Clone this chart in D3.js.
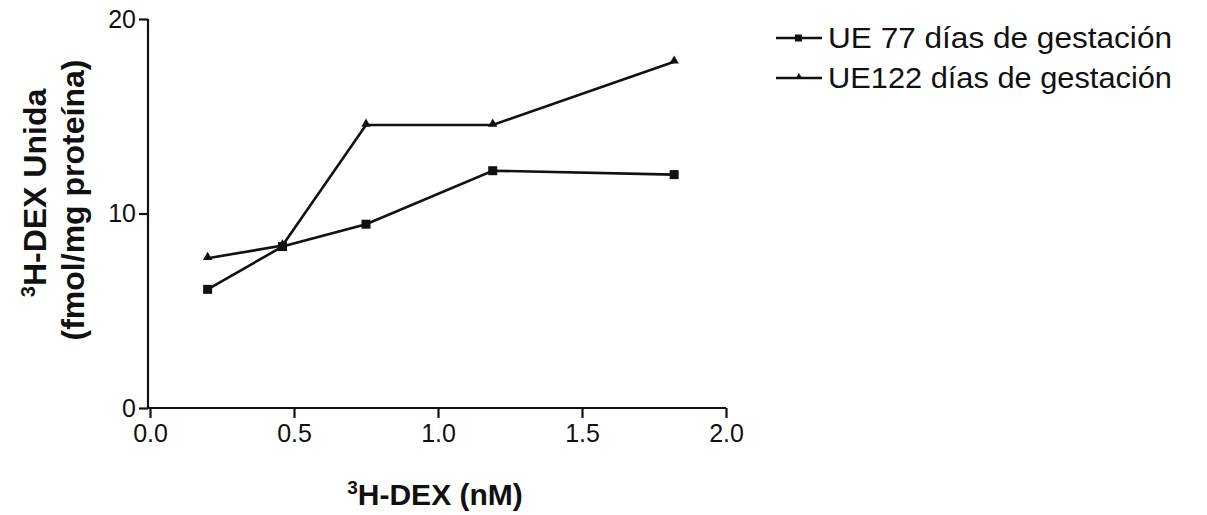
<!DOCTYPE html>
<html>
<head>
<meta charset="utf-8">
<script src="https://cdn.jsdelivr.net/npm/d3@7"></script>
<style>
  body { margin: 0; background: #fff; }
  text { font-family: "Liberation Sans", Arial, sans-serif; fill: #111; }
</style>
</head>
<body>
<div id="canvas"></div>
<script>
// Concentrations of 3H-DEX (nM).
const concentrations = [0.2, 0.46, 0.75, 1.19, 1.82];
// Bound 3H-DEX per series (fmol/mg proteína).
const ue77 = [6.1, 8.3, 9.45, 12.2, 12.0];
const ue122 = [7.7, 8.35, 14.55, 14.55, 17.8];
const seriesNames = ["UE 77 días de gestación", "UE122 días de gestación"];
const xTicks = [0, 0.5, 1.0, 1.5, 2.0];
const yTicks = [0, 10, 20];

const w = 1207, h = 515;
const plotLeft = 150, plotRight = 726, plotTop = 19, plotBottom = 408;

const svg = d3.select("#canvas")
    .append("svg")
    .attr("width", w)
    .attr("height", h);

const xScale = d3.scaleLinear().domain([0, 2]).range([plotLeft, plotRight]);
const yScale = d3.scaleLinear().domain([0, 20]).range([plotBottom, plotTop]);

// Axes
const xAxis = svg.append("g")
    .attr("transform", `translate(0,${plotBottom})`)
    .call(d3.axisBottom(xScale).tickValues(xTicks).tickFormat(d3.format(".1f")).tickSize(10).tickPadding(6));
const yAxis = svg.append("g")
    .attr("transform", `translate(${plotLeft - 2},0)`)
    .call(d3.axisLeft(yScale).tickValues(yTicks).tickFormat(d3.format("d")).tickSize(9).tickPadding(3));

[xAxis, yAxis].forEach(a => {
    a.select(".domain").attr("stroke", "#111").attr("stroke-width", 2.2);
    a.selectAll(".tick line").attr("stroke", "#111").attr("stroke-width", 2.2);
    a.selectAll(".tick text").attr("font-size", 25).attr("fill", "#111");
});
xAxis.select(".domain").attr("d", `M${plotLeft - 2},0H${plotRight}`);
yAxis.select(".domain").attr("d", `M0,${plotTop}V${plotBottom}`);

// Lines
const line = d3.line()
    .x((d, i) => xScale(concentrations[i]))
    .y(d => yScale(d));

const triangle = d3.symbol().type(d3.symbolTriangle).size(38);

const series = [
    { name: seriesNames[0], values: ue77, marker: "square" },
    { name: seriesNames[1], values: ue122, marker: "triangle" }
];

series.forEach(s => {
    svg.append("path")
        .datum(s.values)
        .attr("d", line)
        .attr("fill", "none")
        .attr("stroke", "#111")
        .attr("stroke-width", 2.6);

    if (s.marker === "square") {
        svg.selectAll(null)
            .data(s.values)
            .enter()
            .append("rect")
            .attr("x", (d, i) => xScale(concentrations[i]) - 4.5)
            .attr("y", d => yScale(d) - 4.5)
            .attr("width", 9)
            .attr("height", 9)
            .attr("fill", "#111");
    } else {
        svg.selectAll(null)
            .data(s.values)
            .enter()
            .append("path")
            .attr("d", triangle)
            .attr("transform", (d, i) => `translate(${xScale(concentrations[i])},${yScale(d) - 1})`)
            .attr("fill", "#111");
    }
});

// Axis titles
const yTitle = svg.append("text")
    .attr("transform", "translate(46,193) rotate(-90)")
    .attr("text-anchor", "middle")
    .attr("font-size", 32)
    .attr("font-weight", "bold");
yTitle.append("tspan").attr("font-size", 20).attr("dy", -11).text("3");
yTitle.append("tspan").attr("dy", 11).text("H-DEX Unida");

svg.append("text")
    .attr("transform", "translate(84,200) rotate(-90)")
    .attr("text-anchor", "middle")
    .attr("font-size", 32)
    .attr("font-weight", "bold")
    .text("(fmol/mg proteína)");

const xTitle = svg.append("text")
    .attr("x", 435)
    .attr("y", 505)
    .attr("text-anchor", "middle")
    .attr("font-size", 30)
    .attr("font-weight", "bold");
xTitle.append("tspan").attr("font-size", 19).attr("dy", -11).text("3");
xTitle.append("tspan").attr("dy", 11).text("H-DEX (nM)");

// Legend
const legend = svg.append("g").attr("transform", "translate(776,38)");
series.forEach((s, i) => {
    const g = legend.append("g").attr("transform", `translate(0,${i * 40})`);
    g.append("line")
        .attr("x1", 0).attr("x2", 46)
        .attr("y1", 0).attr("y2", 0)
        .attr("stroke", "#111")
        .attr("stroke-width", 2.4);
    if (s.marker === "square") {
        g.append("rect").attr("x", 19).attr("y", -3.5).attr("width", 7).attr("height", 7).attr("fill", "#111");
    } else {
        g.append("path").attr("d", d3.symbol().type(d3.symbolTriangle).size(22)).attr("transform", "translate(23,-1)").attr("fill", "#111");
    }
    g.append("text")
        .attr("x", 52)
        .attr("y", 10)
        .attr("font-size", 29)
        .attr("textLength", 344)
        .attr("lengthAdjust", "spacingAndGlyphs")
        .text(s.name);
});
</script>
</body>
</html>
